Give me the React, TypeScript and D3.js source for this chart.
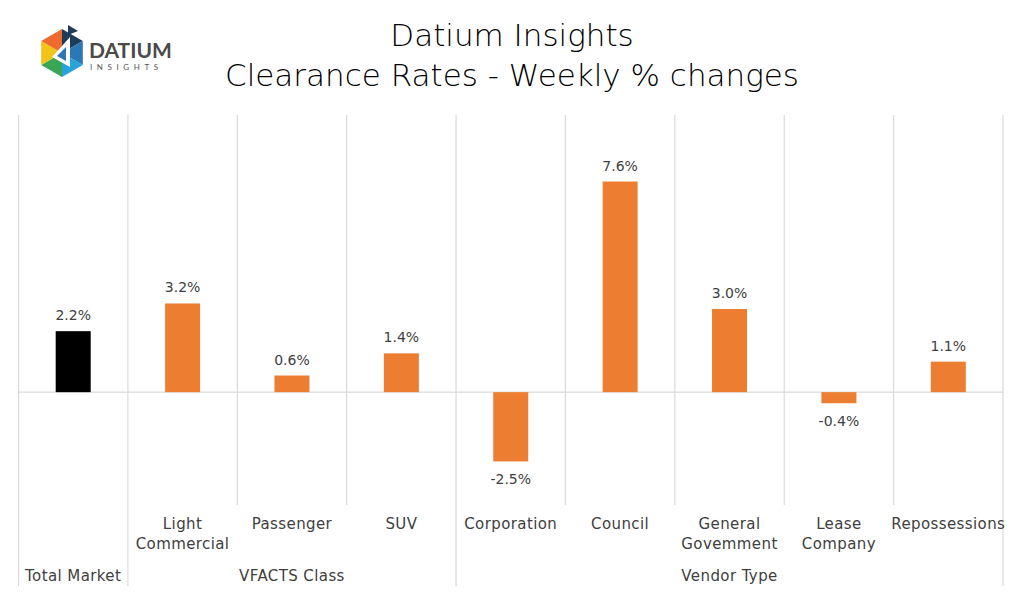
import { useEffect, useRef } from 'react';
import * as d3 from 'd3';

const categories = ['Total Market', 'Light\nCommercial', 'Passenger', 'SUV', 'Corporation', 'Council', 'General\nGovemment', 'Lease\nCompany', 'Repossessions'];
const values = [2.2, 3.2, 0.6, 1.4, -2.5, 7.6, 3.0, -0.4, 1.1];
const groups = [
  { name: 'Total Market', start: 0, end: 1 },
  { name: 'VFACTS Class', start: 1, end: 4 },
  { name: 'Vendor Type', start: 4, end: 9 },
];
const titleLines = ['Datium Insights', 'Clearance Rates - Weekly % changes'];

const FONT = '"DejaVu Sans", "Lato", sans-serif';
const LOGO_FONT = '"Lato", "DejaVu Sans", sans-serif';

export default function App() {
  const svgRef = useRef<SVGSVGElement>(null);

  useEffect(() => {
    if (!svgRef.current) return;
    const width = 1024;
    const height = 594;
    const svg = d3.select(svgRef.current).attr('width', width).attr('height', height);
    svg.selectAll('*').remove();

    svg.append('rect').attr('width', width).attr('height', height).attr('fill', '#fff');

    const left = 18.5;
    const right = 1003;
    const x = d3.scaleBand<number>()
      .domain(d3.range(categories.length))
      .range([left, right])
      .paddingInner(0)
      .paddingOuter(0);
    const y = d3.scaleLinear().domain([-4, 10]).range([503, 115]);
    const barW = 35;

    // title
    svg.selectAll('.title')
      .data(titleLines)
      .join('text')
      .attr('x', 512)
      .attr('y', (_, i) => 46 + i * 40)
      .attr('text-anchor', 'middle')
      .attr('fill', '#000')
      .style('font-family', FONT)
      .style('font-size', '31px')
      .style('font-weight', '300')
      .text(d => d);

    // logo
    const logo = svg.append('g').attr('transform', 'translate(62,53)');
    const r = 24;
    const pal = ['#1f3b5a', '#2b78b5', '#29a3dc', '#3aa655', '#f2c318', '#ef6a2c'];
    for (let k = 0; k < 6; k++) {
      const a0 = (-90 + k * 60) * Math.PI / 180;
      const a1 = (-90 + (k + 1) * 60) * Math.PI / 180;
      logo.append('path')
        .attr('d', `M0,0L${r * Math.cos(a0)},${r * Math.sin(a0)}L${r * Math.cos(a1)},${r * Math.sin(a1)}Z`)
        .attr('fill', pal[k]);
    }
    logo.append('path').attr('d', 'M8,-16L8,14L-10,4Z').attr('fill', '#fff');
    logo.append('path').attr('d', 'M4,-6L4,8L-5,3Z').attr('fill', '#2b78b5');
    logo.append('path').attr('d', 'M6,-28L16,-22L6,-18Z').attr('fill', '#1f3b5a');
    svg.append('text').attr('x', 89).attr('y', 58)
      .attr('fill', '#4a4a4a').style('font-family', LOGO_FONT).style('font-size', '21px').style('font-weight', 'bold')
      .text('DATIUM');
    svg.append('text').attr('x', 90).attr('y', 70)
      .attr('fill', '#555').style('font-family', LOGO_FONT).style('font-size', '8px').style('letter-spacing', '4.6px')
      .text('INSIGHTS');

    // vertical separators
    const boundaries = d3.range(categories.length + 1);
    const groupEdges = new Set(groups.flatMap(g => [g.start, g.end]));
    svg.selectAll('.sep')
      .data(boundaries)
      .join('line')
      .attr('x1', d => left + d * x.bandwidth())
      .attr('x2', d => left + d * x.bandwidth())
      .attr('y1', 115)
      .attr('y2', d => (groupEdges.has(d) ? 587 : 505))
      .attr('stroke', '#d9d9d9')
      .attr('stroke-width', 1.2);

    // zero line
    svg.append('line')
      .attr('x1', left).attr('x2', right)
      .attr('y1', y(0)).attr('y2', y(0))
      .attr('stroke', '#d9d9d9').attr('stroke-width', 1.2);

    // bars
    svg.selectAll('.bar')
      .data(values)
      .join('rect')
      .attr('x', (_, i) => x(i)! + x.bandwidth() / 2 - barW / 2)
      .attr('y', d => y(Math.max(0, d)))
      .attr('width', barW)
      .attr('height', d => Math.abs(y(d) - y(0)))
      .attr('fill', (_, i) => (i === 0 ? '#000000' : '#ED7D31'));

    // value labels
    svg.selectAll('.val')
      .data(values)
      .join('text')
      .attr('x', (_, i) => x(i)! + x.bandwidth() / 2)
      .attr('y', d => (d >= 0 ? y(d) - 11 : y(d) + 23))
      .attr('text-anchor', 'middle')
      .attr('fill', '#404040')
      .style('font-family', FONT)
      .style('font-size', '14px')
      .text(d => `${d.toFixed(1)}%`);

    // category labels (first one only shows at group level)
    categories.forEach((c, i) => {
      if (i === 0) return;
      const lines = c.split('\n');
      svg.append('text')
        .attr('x', x(i)! + x.bandwidth() / 2)
        .attr('y', 529)
        .attr('text-anchor', 'middle')
        .attr('fill', '#404040')
        .style('font-family', FONT)
        .style('font-size', '15px')
        .style('letter-spacing', '0.4px')
        .selectAll('tspan')
        .data(lines)
        .join('tspan')
        .attr('x', x(i)! + x.bandwidth() / 2)
        .attr('dy', (_, j) => (j === 0 ? 0 : 20))
        .text(d => d);
    });

    // group labels
    svg.selectAll('.grp')
      .data(groups)
      .join('text')
      .attr('x', d => left + ((d.start + d.end) / 2) * x.bandwidth())
      .attr('y', 581)
      .attr('text-anchor', 'middle')
      .attr('fill', '#404040')
      .style('font-family', FONT)
      .style('font-size', '15px')
      .style('letter-spacing', '0.4px')
      .text(d => d.name);
  }, []);

  return (
    <div style={{ margin: -8 }}>
      <svg ref={svgRef} style={{ display: 'block' }} />
    </div>
  );
}
